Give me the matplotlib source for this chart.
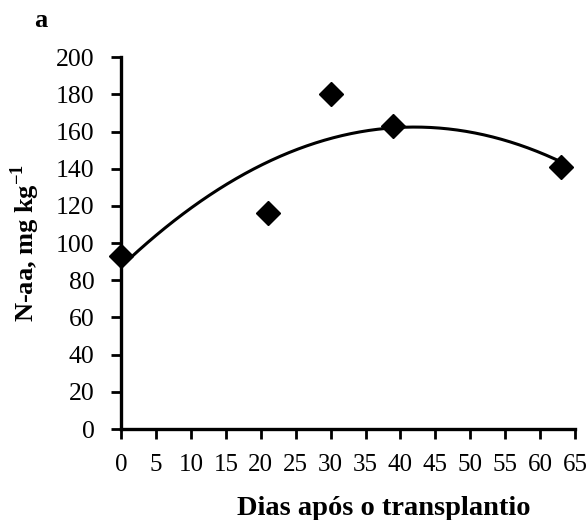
import matplotlib
matplotlib.use('Agg')
import matplotlib.pyplot as plt
import numpy as np

plt.rcParams['font.family'] = 'Liberation Serif'
plt.rcParams['mathtext.fontset'] = 'custom'
plt.rcParams['mathtext.rm'] = 'Liberation Serif'
plt.rcParams['mathtext.bf'] = 'Liberation Serif:bold'

# Dados
dias = [0, 21, 30, 39, 63]
n_aa = [93, 116, 180, 163, 141]

x_ticks = list(range(0, 70, 5))
y_ticks = list(range(0, 220, 20))

fig = plt.figure(figsize=(5.88, 5.2), dpi=100)
ax = fig.add_axes([0.206, 0.175, 0.772, 0.715])

# Linha de tendência polinomial (ordem 2), ajustada aos pontos
coef = np.polyfit(dias, n_aa, 2)
xs = np.linspace(0, 63, 200)
ax.plot(xs, np.polyval(coef, xs), color='black', lw=2.2)

ax.plot(dias, n_aa, 'D', color='black', markersize=12.5, zorder=3, clip_on=False)

ax.set_xlim(0, 65)
ax.set_ylim(0, 200)
ax.set_xticks(x_ticks)
ax.set_yticks(y_ticks)
ax.tick_params(width=2, length=7, direction='out')
ax.tick_params(axis='x', labelsize=18, pad=11)
ax.tick_params(axis='y', labelsize=18.5, pad=12)

for s in ['top', 'right']:
    ax.spines[s].set_visible(False)
for s in ['left', 'bottom']:
    ax.spines[s].set_linewidth(2.4)

# rótulo do eixo x deslocado para a direita, como no original
fig.text(0.653, 0.022, 'Dias após o transplantio', fontsize=20.5,
         fontweight='bold', ha='center', va='center')
ax.set_ylabel(r'N-aa, mg kg$^{\mathbf{-1}}$', fontsize=19, fontweight='bold', labelpad=10)

fig.text(0.058, 0.96, 'a', fontsize=19, fontweight='bold', ha='left', va='center')

plt.savefig('out.png', dpi=100)
